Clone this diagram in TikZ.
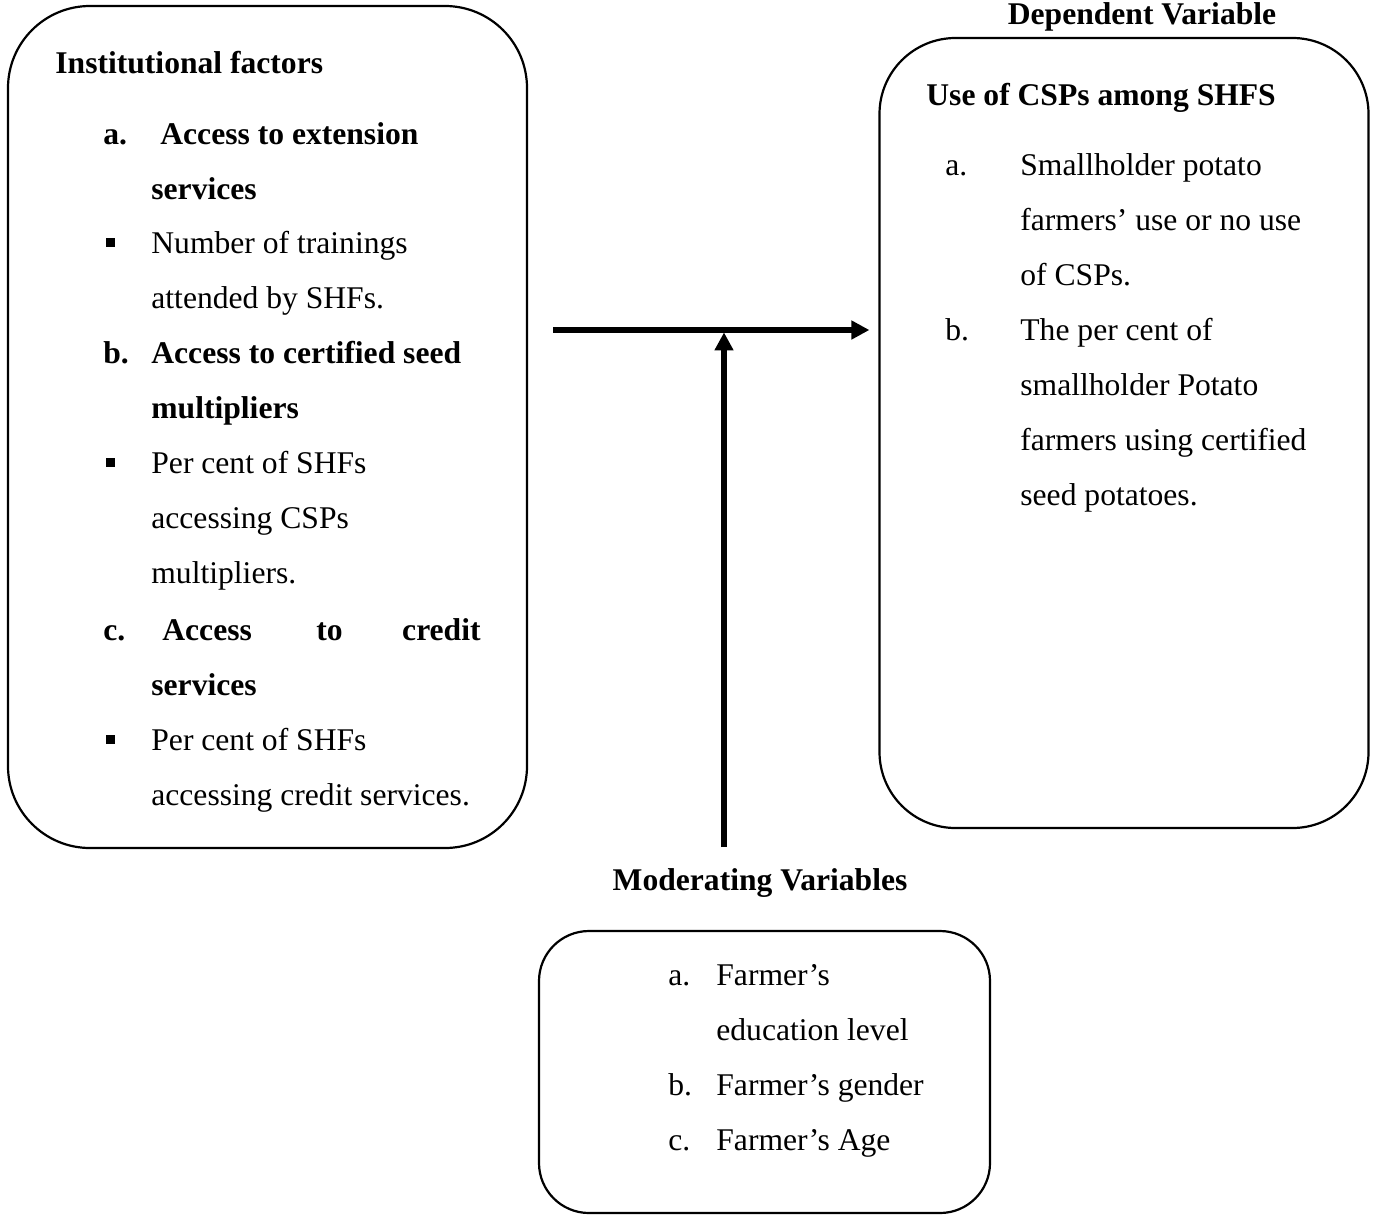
\documentclass[tikz,border=0pt]{standalone}
\usepackage{fontspec}
\setmainfont{Liberation Serif}
\usetikzlibrary{arrows.meta}
\begin{document}
\begin{tikzpicture}[x=0.5pt,y=-0.5pt,
  box/.style={draw, line width=1.1pt, inner sep=0pt},
  txt/.style={anchor=base west, inner sep=0pt, font=\fontsize{15.8}{19}\selectfont},
  btxt/.style={txt, font=\fontsize{15.8}{19}\selectfont\bfseries},
  bul/.style={fill=black, inner sep=0pt, minimum width=4.5pt, minimum height=4.2pt, anchor=north west},
  arr/.style={line width=2.6pt, -{Triangle[length=9pt,width=9pt]}}]
\useasboundingbox (0,0) rectangle (1375,1215);
% boxes
\node[box, rounded corners=41pt, minimum width=259.5pt, minimum height=421pt] (left) at (267.5,427) {};
\node[box, rounded corners=38pt, minimum width=244.5pt, minimum height=395pt] (right) at (1124,433) {};
\node[box, rounded corners=25pt, minimum width=225.5pt, minimum height=141pt] (bottom) at (764.5,1072) {};
% titles
\node[btxt, anchor=base] (deptitle) at (1142,25) {Dependent Variable};
\node[btxt, anchor=base] (modtitle) at (760,890) {Moderating Variables};
% left box text
\node[btxt] (l0) at (55,73) {Institutional factors};
\node[btxt] (l1a) at (103,144) {a.};
\node[btxt] (l1) at (160,144) {Access to extension};
\node[btxt] (l2) at (151,199) {services};
\node[bul] (b1) at (106,238) {};
\node[txt] (l3) at (151,253) {Number of trainings};
\node[txt] (l4) at (151,308) {attended by SHFs.};
\node[btxt] (l5a) at (103,363) {b.};
\node[btxt] (l5) at (151,363) {Access to certified seed};
\node[btxt] (l6) at (151,418) {multipliers};
\node[bul] (b2) at (106,458) {};
\node[txt] (l7) at (151,473) {Per cent of SHFs};
\node[txt] (l8) at (151,528) {accessing CSPs};
\node[txt] (l9) at (151,583) {multipliers.};
\node[btxt] (l10a) at (103,640) {c.};
\node[btxt] (l10b) at (162,640) {Access};
\node[btxt] (l10c) at (316,640) {to};
\node[btxt, anchor=base east] (l10d) at (481,640) {credit};
\node[btxt] (l11) at (151,695) {services};
\node[bul] (b3) at (106,735) {};
\node[txt] (l12) at (151,750) {Per cent of SHFs};
\node[txt] (l13) at (151,805) {accessing credit services.};
% right box text
\node[btxt] (r0) at (926,105) {Use of CSPs among SHFS};
\node[txt] (r1a) at (945,175) {a.};
\node[txt] (r1) at (1020,175) {Smallholder potato};
\node[txt] (r2) at (1020,230) {farmers’ use or no use};
\node[txt] (r3) at (1020,285) {of CSPs.};
\node[txt] (r4a) at (945,340) {b.};
\node[txt] (r4) at (1020,340) {The per cent of};
\node[txt] (r5) at (1020,395) {smallholder Potato};
\node[txt] (r6) at (1020,450) {farmers using certified};
\node[txt] (r7) at (1020,505) {seed potatoes.};
% bottom box text
\node[txt] (m1a) at (668,985) {a.};
\node[txt] (m1) at (716,985) {Farmer’s};
\node[txt] (m2) at (716,1040) {education level};
\node[txt] (m3a) at (668,1095) {b.};
\node[txt] (m3) at (716,1095) {Farmer’s gender};
\node[txt] (m4a) at (668,1150) {c.};
\node[txt] (m4) at (716,1150) {Farmer’s Age};
% arrows
\coordinate (hs) at (553,330);
\coordinate (junc) at (724,330);
\coordinate (vs) at (724,847);
\draw[arr, shorten >=4.5pt] (hs) -- (right.west |- hs);
\draw[arr, shorten >=1.2pt] (vs) -- (junc);
\end{tikzpicture}
\end{document}
